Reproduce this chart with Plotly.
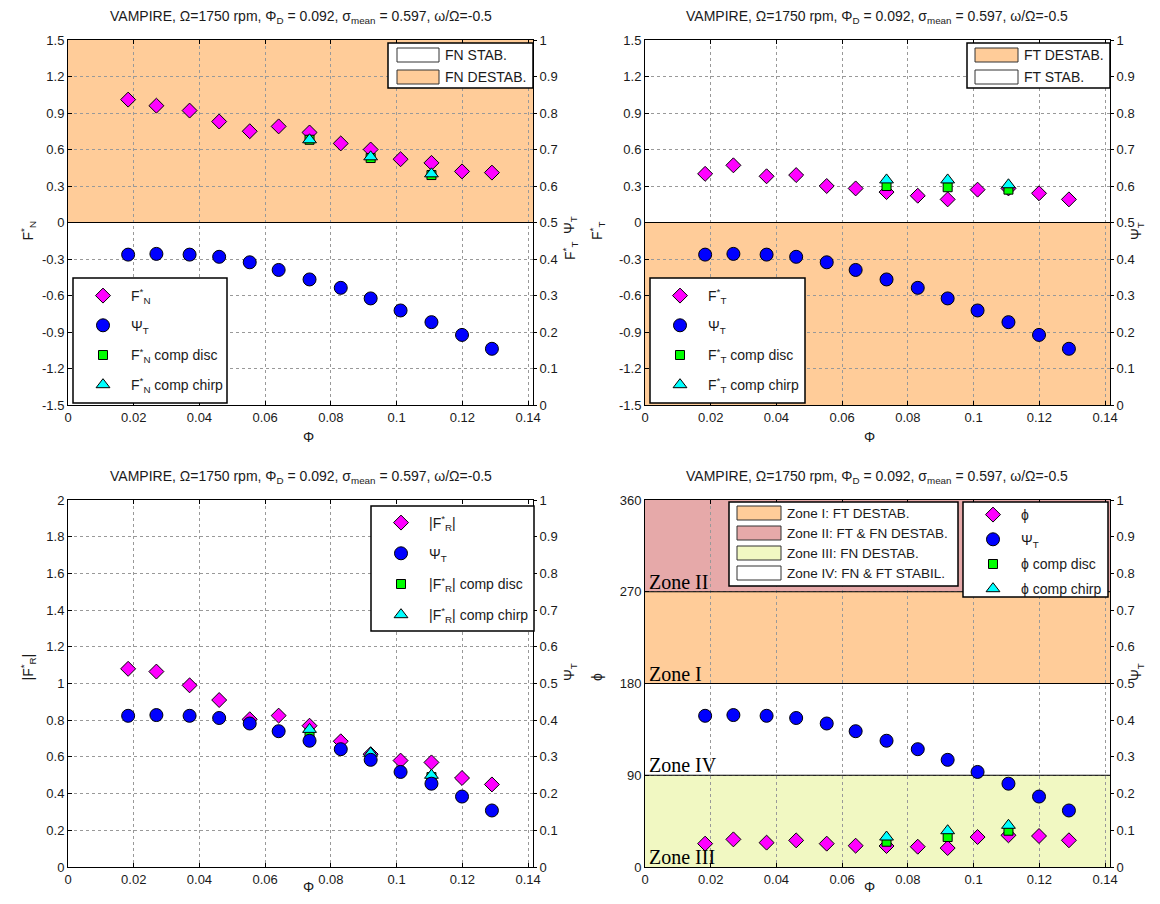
import plotly.graph_objects as go

# ---------------- data ----------------
phi = [0.0183, 0.0269, 0.0370, 0.0460, 0.0553, 0.0641, 0.0735, 0.0830, 0.0921, 0.1012, 0.1106, 0.1199, 0.1290]
phi_comp = [0.0735, 0.0921, 0.1106]
psi_t = [0.412, 0.414, 0.412, 0.406, 0.391, 0.370, 0.344, 0.321, 0.292, 0.259, 0.227, 0.192, 0.154]

fn = [1.01, 0.96, 0.92, 0.83, 0.75, 0.79, 0.74, 0.65, 0.60, 0.52, 0.49, 0.42, 0.41]
fn_disc = [0.68, 0.53, 0.39]
fn_chirp = [0.68, 0.54, 0.40]

ft = [0.40, 0.47, 0.38, 0.39, 0.30, 0.28, 0.25, 0.22, 0.19, 0.27, 0.28, 0.24, 0.19]
ft_disc = [0.30, 0.29, 0.27]
ft_chirp = [0.35, 0.35, 0.31]

fr = [1.08, 1.065, 0.99, 0.91, 0.805, 0.825, 0.77, 0.685, 0.615, 0.58, 0.57, 0.485, 0.45]
fr_disc = [0.73, 0.60, 0.49]
fr_chirp = [0.75, 0.62, 0.50]

ang = [22.9, 27.1, 23.9, 26.1, 22.9, 20.9, 20.6, 19.9, 18.6, 29.4, 31.1, 30.4, 26.2]
ang_disc = [24.8, 29.4, 35.6]
ang_chirp = [29.4, 35.6, 40.9]

x_lim = [0, 0.1415]
x_ticks = [0, 0.02, 0.04, 0.06, 0.08, 0.1, 0.12, 0.14]
x_ticktext = ["0", "0.02", "0.04", "0.06", "0.08", "0.1", "0.12", "0.14"]
f_ticks = [-1.5, -1.2, -0.9, -0.6, -0.3, 0, 0.3, 0.6, 0.9, 1.2, 1.5]
f_ticktext = ["-1.5", "-1.2", "-0.9", "-0.6", "-0.3", "0", "0.3", "0.6", "0.9", "1.2", "1.5"]
fr_ticks = [0, 0.2, 0.4, 0.6, 0.8, 1, 1.2, 1.4, 1.6, 1.8, 2]
fr_ticktext = ["0", "0.2", "0.4", "0.6", "0.8", "1", "1.2", "1.4", "1.6", "1.8", "2"]
ang_ticks = [0, 90, 180, 270, 360]
psi_ticks = [0, 0.1, 0.2, 0.3, 0.4, 0.5, 0.6, 0.7, 0.8, 0.9, 1]
psi_ticktext = ["0", "0.1", "0.2", "0.3", "0.4", "0.5", "0.6", "0.7", "0.8", "0.9", "1"]

fn_destab = [0, 1.5]
ft_destab = [-1.5, 0]
zone_names = ["Zone I", "Zone II", "Zone III", "Zone IV"]
zone_lo = [180, 270, 0, 90]
zone_hi = [270, 360, 90, 180]

title_txt = "VAMPIRE, Ω=1750 rpm, Φ<sub>D</sub> = 0.092, σ<sub>mean</sub> = 0.597, ω/Ω=-0.5"

# ---------------- styles ----------------
W, H = 1160, 904
ORANGE = "#FFCC99"
PINK = "#E6A9A9"
YELLOW = "#F1F8C2"
FONT = "Liberation Sans"
TXT = "#1a1a1a"
GRID = "#999999"

dia = dict(symbol="diamond", size=11.5, color="#FF00FF", line=dict(color="black", width=1))
circ = dict(symbol="circle", size=13, color="#0000FF", line=dict(color="black", width=1))
sq = dict(symbol="square", size=9, color="#00FF00", line=dict(color="black", width=1))
tri = dict(symbol="triangle-up", size=12, color="#00FFFF", line=dict(color="black", width=1))

def px(x):
    return x / W

def py(y):
    return 1 - y / H

xdom = [[px(68), px(533)], [px(645), px(1110)]]
ydom = [[py(405), py(40)], [py(867), py(500)]]

fig = go.Figure()
layout = dict(
    width=W, height=H, margin=dict(l=0, r=0, t=0, b=0, autoexpand=False),
    paper_bgcolor="white", plot_bgcolor="white", showlegend=True,
    font=dict(family=FONT, size=13, color=TXT),
)
shapes = []
annotations = []

# zone boundary lines (drawn as traces so they sit above the dotted grid)
def boundary(xa, ya, yval):
    fig.add_trace(go.Scatter(x=x_lim, y=[yval, yval], mode="lines", line=dict(color="black", width=1.2),
                             xaxis=xa, yaxis=ya, showlegend=False, hoverinfo="skip"))

boundary("x", "y", fn_destab[0])
boundary("x2", "y3", ft_destab[1])
for lo in zone_lo:
    if lo > 0:
        boundary("x4", "y7", lo)

panels = [
    (0, 0, fn, fn_disc, fn_chirp, "F<sup>*</sup><sub>N</sub>", f_ticks, f_ticktext, [-1.5, 1.5]),
    (0, 1, ft, ft_disc, ft_chirp, "F<sup>*</sup><sub>T</sub>", f_ticks, f_ticktext, [-1.5, 1.5]),
    (1, 0, fr, fr_disc, fr_chirp, "|F<sup>*</sup><sub>R</sub>|", fr_ticks, fr_ticktext, [0, 2]),
    (1, 1, ang, ang_disc, ang_chirp, "ϕ", ang_ticks, [str(v) for v in ang_ticks], [0, 360]),
]

# (box left, top, right, bottom), legend top, group gap
legend_boxes = [(73, 278, 227, 403, 280, 8.5), (650, 278, 805, 403, 280, 8.5),
                (371, 506, 534, 631, 507, 9.5), (963, 502, 1108, 597, 499, 3.5)]

for i, (r, c, yv, yd, yc, lab, ytv, ytt, yr) in enumerate(panels):
    n = i + 1
    xa = "x" if n == 1 else f"x{n}"
    ya_n = 2 * i + 1
    yb_n = 2 * i + 2
    ya = "y" if ya_n == 1 else f"y{ya_n}"
    yb = f"y{yb_n}"
    leg = "legend" if n == 1 else f"legend{n}"

    fig.add_trace(go.Scatter(x=phi, y=yv, mode="markers", marker=dia, name=lab,
                             xaxis=xa, yaxis=ya, legend=leg, legendrank=1, legendgroup=f"a{n}"))
    fig.add_trace(go.Scatter(x=phi_comp, y=yd, mode="markers", marker=sq, name=lab + " comp disc",
                             xaxis=xa, yaxis=ya, legend=leg, legendrank=3, legendgroup=f"c{n}"))
    fig.add_trace(go.Scatter(x=phi_comp, y=yc, mode="markers", marker=tri, name=lab + " comp chirp",
                             xaxis=xa, yaxis=ya, legend=leg, legendrank=4, legendgroup=f"d{n}"))
    fig.add_trace(go.Scatter(x=phi, y=psi_t, mode="markers", marker=circ, name="Ψ<sub>T</sub>",
                             xaxis=xa, yaxis=yb, legend=leg, legendrank=2, legendgroup=f"b{n}"))

    xkey = "xaxis" if n == 1 else f"xaxis{n}"
    yakey = "yaxis" if ya_n == 1 else f"yaxis{ya_n}"
    ybkey = f"yaxis{yb_n}"
    layout[xkey] = dict(domain=xdom[c], anchor=ya, range=x_lim, tickvals=x_ticks, ticktext=x_ticktext,
                        ticks="inside", ticklen=4, tickcolor="black", showline=True, linecolor="black",
                        linewidth=1, mirror="ticks", showgrid=True, gridcolor=GRID, griddash="dot",
                        gridwidth=1, zeroline=False, tickfont=dict(size=13, color=TXT))
    layout[yakey] = dict(domain=ydom[r], anchor=xa, range=yr, tickvals=ytv, ticktext=ytt,
                         ticks="inside", ticklen=4, tickcolor="black", showline=True, linecolor="black",
                         linewidth=1, mirror=True, showgrid=True, gridcolor=GRID, griddash="dot",
                         gridwidth=1, zeroline=False, tickfont=dict(size=13, color=TXT))
    layout[ybkey] = dict(overlaying=ya, anchor=xa, side="right", range=[0, 1], tickvals=psi_ticks,
                         ticktext=psi_ticktext, ticks="outside", ticklen=3, tickcolor="black",
                         showline=True, linecolor="black", linewidth=1, showgrid=False, zeroline=False,
                         tickfont=dict(size=13, color=TXT))

    bx0, by0, bx1, by1, ltop, gap = legend_boxes[i]
    shapes.append(dict(type="rect", xref="paper", yref="paper", x0=px(bx0), x1=px(bx1), y0=py(by1), y1=py(by0),
                       fillcolor="white", line=dict(color="black", width=1.5), layer="above"))
    layout[leg] = dict(x=px(bx0 + 2), y=py(ltop), xanchor="left", yanchor="top",
                       bgcolor="rgba(0,0,0,0)", borderwidth=0, itemwidth=46,
                       traceorder="grouped", tracegroupgap=gap,
                       font=dict(family=FONT, size=14, color=TXT))

    # titles / axis labels
    cx = (xdom[c][0] + xdom[c][1]) / 2
    ty = 17 if r == 0 else 477
    annotations.append(dict(text=title_txt, xref="paper", yref="paper", x=cx, y=py(ty),
                            showarrow=False, font=dict(size=14, color=TXT), xanchor="center", yanchor="middle"))
    xly = 437 if r == 0 else 897
    annotations.append(dict(text="Φ", xref="paper", yref="paper", x=cx, y=py(xly),
                            showarrow=False, font=dict(size=14, color=TXT)))
    lx = 16 if c == 0 else 597
    rx = 570 if c == 0 else 1148
    lyc = 220 if r == 0 else 683
    annotations.append(dict(text=lab, xref="paper", yref="paper", x=px(lx), y=py(lyc), textangle=-90,
                            showarrow=False, font=dict(size=14, color=TXT)))
    annotations.append(dict(text="Ψ<sub>T</sub>", xref="paper", yref="paper", x=px(rx),
                            y=py(lyc - 6 if r == 0 and c == 0 else lyc),
                            textangle=-90, showarrow=False, font=dict(size=14, color=TXT)))

# overlapping label seen in reference between the top panels
annotations.append(dict(text="F<sup>*</sup><sub>T</sub>", xref="paper", yref="paper", x=px(570), y=py(240),
                        textangle=-90, showarrow=False, font=dict(size=14, color=TXT)))

# ---------------- zone backgrounds ----------------
shapes.append(dict(type="rect", xref="x domain", yref="y", x0=0, x1=1, y0=fn_destab[0], y1=fn_destab[1],
                   fillcolor=ORANGE, line=dict(width=0), layer="below"))
shapes.append(dict(type="rect", xref="x2 domain", yref="y3", x0=0, x1=1, y0=ft_destab[0], y1=ft_destab[1],
                   fillcolor=ORANGE, line=dict(width=0), layer="below"))
zone_cols = [ORANGE, PINK, YELLOW, "white"]
for name, lo, hi, col in zip(zone_names, zone_lo, zone_hi, zone_cols):
    shapes.append(dict(type="rect", xref="x4 domain", yref="y7", x0=0, x1=1, y0=lo, y1=hi,
                       fillcolor=col, line=dict(width=0), layer="below"))
    annotations.append(dict(text=name, xref="x4", yref="y7", x=0.0005, y=lo, xanchor="left", yanchor="bottom",
                            yshift=-3, showarrow=False, font=dict(family="Liberation Serif", size=20, color="black")))

# ---------------- patch legends (drawn) ----------------
def patch_legend(box, patch_x, text_x, rows, size=14):
    bx0, by0, bx1, by1 = box
    shapes.append(dict(type="rect", xref="paper", yref="paper", x0=px(bx0), x1=px(bx1), y0=py(by1), y1=py(by0),
                       fillcolor="white", line=dict(color="black", width=1.5), layer="above"))
    for (yc, col, txt) in rows:
        shapes.append(dict(type="rect", xref="paper", yref="paper", x0=px(patch_x[0]), x1=px(patch_x[1]),
                           y0=py(yc + 7), y1=py(yc - 7), fillcolor=col,
                           line=dict(color="#333333", width=1), layer="above"))
        annotations.append(dict(text=txt, xref="paper", yref="paper", x=px(text_x), y=py(yc),
                                xanchor="left", yanchor="middle", showarrow=False,
                                font=dict(family=FONT, size=size, color=TXT)))

patch_legend((388, 43, 533, 88), (397, 439), 443, [(55, "white", "FN STAB."), (77, ORANGE, "FN DESTAB.")])
patch_legend((967, 43, 1110, 88), (975, 1018), 1022, [(55, ORANGE, "FT DESTAB."), (77, "white", "FT STAB.")])
patch_legend((729, 502, 958, 586), (737, 781), 785,
             [(513, ORANGE, "Zone I: FT DESTAB."), (533, PINK, "Zone II: FT &amp; FN DESTAB."),
              (553, YELLOW, "Zone III: FN DESTAB."), (573, "white", "Zone IV: FN &amp; FT STABIL.")], size=13.5)

layout["shapes"] = shapes
layout["annotations"] = annotations
fig.update_layout(**layout)
fig.write_html("out.html", config={"displayModeBar": False},
               post_script="document.body.style.margin='0px';")
